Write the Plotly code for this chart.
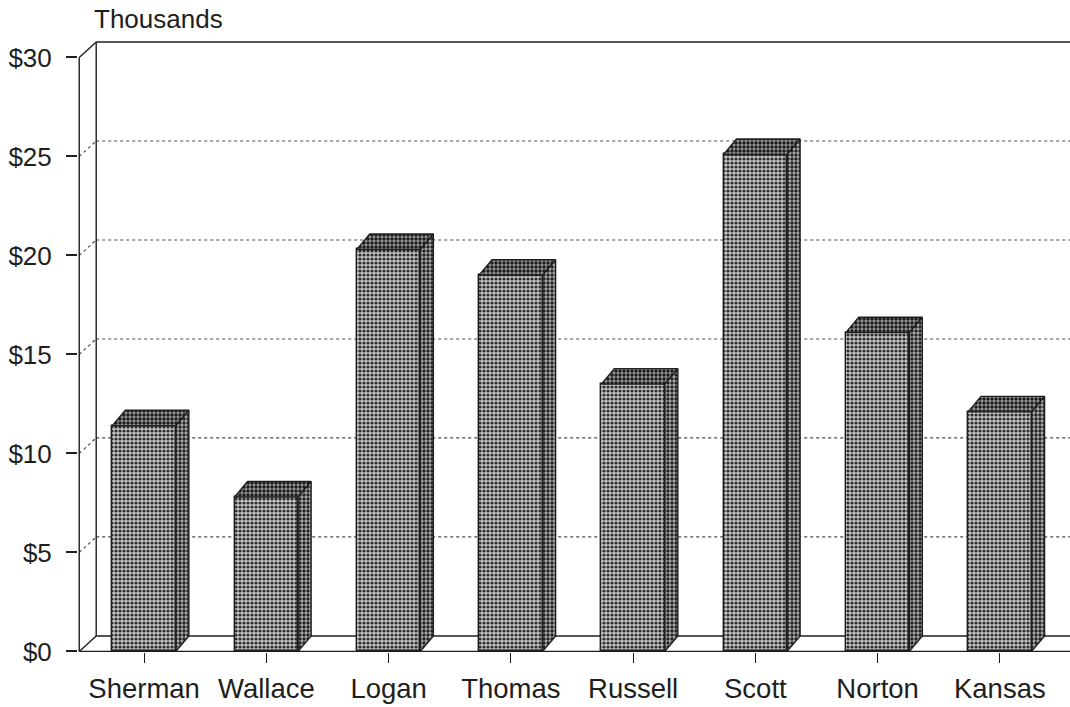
import plotly.graph_objects as go

# County totals, in thousands of dollars
counties = ["Sherman", "Wallace", "Logan", "Thomas", "Russell", "Scott", "Norton", "Kansas"]
values = [11.4, 7.8, 20.3, 19.0, 13.5, 25.1, 16.1, 12.1]
tick_vals = [0, 5, 10, 15, 20, 25, 30]
tick_text = ["$0", "$5", "$10", "$15", "$20", "$25", "$30"]
grid_vals = [5, 10, 15, 20, 25]

# 3-D styling (in axis units)
BAR_W = 0.52        # width of a bar's front face
BAR_DX = 0.106      # horizontal depth of a bar
BAR_DY = 0.78       # vertical depth of a bar
WALL_DX = 0.139     # depth of the back wall
WALL_DY = 0.78
X_LEFT = -0.531     # front plane of the left wall
X_RIGHT = 7.574
Y_TOP = 30

INK = "#1e1e1e"
FONT = "Liberation Sans, Arial, Helvetica, sans-serif"

fig = go.Figure()

# front faces
fig.add_trace(go.Bar(
    x=list(range(len(counties))), y=values, width=BAR_W,
    marker=dict(
        color="#c4c4c4",
        line=dict(color=INK, width=1.4),
        pattern=dict(shape=".", fgcolor="#2e2e2e", bgcolor="#c4c4c4",
                     size=4, solidity=0.5, fillmode="replace"),
    ),
    hoverinfo="skip", showlegend=False,
))

# top and side faces, derived from each value
for i, v in enumerate(values):
    xl, xr = i - BAR_W / 2, i + BAR_W / 2
    fig.add_trace(go.Scatter(
        x=[xl, xl + BAR_DX, xr + BAR_DX, xr, xl],
        y=[v, v + BAR_DY, v + BAR_DY, v, v],
        mode="lines", fill="toself", fillcolor="#808080",
        fillpattern=dict(shape=".", fgcolor="#1a1a1a", bgcolor="#9a9a9a",
                         size=4, solidity=0.55, fillmode="replace"),
        line=dict(color=INK, width=1.4),
        hoverinfo="skip", showlegend=False,
    ))
    fig.add_trace(go.Scatter(
        x=[xr, xr, xr + BAR_DX, xr + BAR_DX, xr],
        y=[0, v, v + BAR_DY, BAR_DY, 0],
        mode="lines", fill="toself", fillcolor="#909090",
        fillpattern=dict(shape=".", fgcolor="#222222", bgcolor="#b0b0b0",
                         size=4, solidity=0.55, fillmode="replace"),
        line=dict(color=INK, width=1.4),
        hoverinfo="skip", showlegend=False,
    ))

shapes = []
xb = X_LEFT + WALL_DX
dot = dict(color="#4a4a4a", width=1.2, dash="dot")
solid = dict(color=INK, width=1.4)
# dotted grid on back wall and left wall
for g in grid_vals:
    shapes.append(dict(type="line", xref="x", yref="y", layer="below",
                       x0=xb, y0=g + WALL_DY, x1=X_RIGHT, y1=g + WALL_DY, line=dot))
    shapes.append(dict(type="line", xref="x", yref="y", layer="below",
                       x0=X_LEFT, y0=g, x1=xb, y1=g + WALL_DY, line=dot))
# wall and floor edges
edges = [
    (X_LEFT, 0, X_LEFT, Y_TOP, "above"),
    (X_LEFT, Y_TOP, xb, Y_TOP + WALL_DY, "below"),
    (xb, WALL_DY, xb, Y_TOP + WALL_DY, "below"),
    (xb, Y_TOP + WALL_DY, X_RIGHT, Y_TOP + WALL_DY, "below"),
    (xb, WALL_DY, X_RIGHT, WALL_DY, "below"),
    (X_LEFT, 0, xb, WALL_DY, "below"),
    (X_LEFT, 0, X_RIGHT, 0, "above"),
]
for x0, y0, x1, y1, layer in edges:
    shapes.append(dict(type="line", xref="x", yref="y", layer=layer,
                       x0=x0, y0=y0, x1=x1, y1=y1, line=solid))

fig.update_layout(
    width=1070, height=707,
    margin=dict(l=78, r=0, t=41, b=55),
    paper_bgcolor="#ffffff", plot_bgcolor="#ffffff",
    bargap=0,
    font=dict(family=FONT, color=INK, size=26),
    shapes=shapes,
    xaxis=dict(
        range=[X_LEFT - 0.01, X_RIGHT],
        tickmode="array", tickvals=list(range(len(counties))), ticktext=counties,
        ticks="outside", ticklen=10, tickwidth=1.3, tickcolor=INK,
        tickfont=dict(size=27.5), ticklabelstandoff=2,
        showgrid=False, zeroline=False, showline=False,
    ),
    yaxis=dict(
        range=[-0.03, Y_TOP + WALL_DY + 0.05],
        tickmode="array", tickvals=tick_vals, ticktext=tick_text,
        ticks="outside", ticklen=11, tickwidth=1.5, tickcolor=INK,
        tickfont=dict(size=26), ticklabelstandoff=9,
        showgrid=False, zeroline=False, showline=False,
    ),
    annotations=[dict(
        text="Thousands", xref="paper", yref="paper",
        x=(95 - 78) / (1070 - 78), y=1.0, xanchor="left", yanchor="bottom",
        xshift=-3, yshift=5, showarrow=False, font=dict(size=26, color=INK),
    )],
)

fig.write_html("out.html")
